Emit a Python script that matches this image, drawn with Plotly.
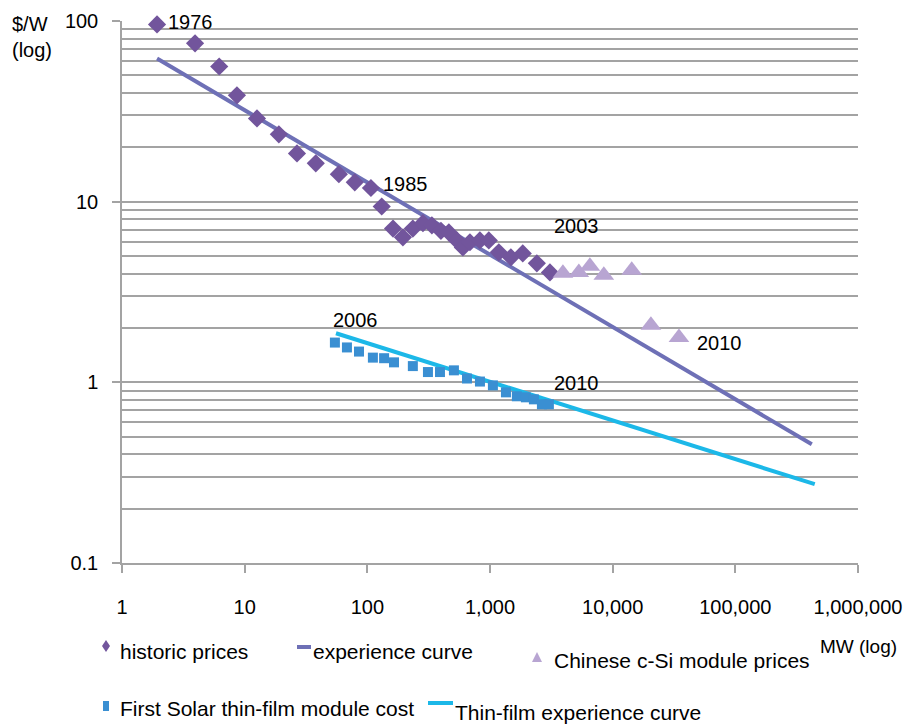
import plotly.graph_objects as go
import math

# ---- data ----
hist_mw = [1.93, 3.94, 6.2, 8.65, 12.6, 19, 26.7, 38, 58.6, 79, 107, 131, 162, 195, 235, 284,
           336, 398, 462, 537, 601, 686, 827, 978, 1180, 1480, 1850, 2410, 3080]
hist_price = [95.7, 75.2, 56, 38.8, 28.9, 23.6, 18.5, 16.3, 14.2, 12.8, 11.9, 9.4, 7.1, 6.35, 7.1, 7.6,
              7.4, 6.9, 6.76, 6.1, 5.58, 5.96, 6.1, 6.1, 5.24, 4.92, 5.17, 4.56, 4.06]

exp_mw = [1.93, 420000]
exp_price = [62, 0.454]

cn_mw = [3930, 5300, 6520, 8470, 14300, 20500, 34700]
cn_price = [4.01, 4.06, 4.39, 3.91, 4.17, 2.07, 1.77]

fs_mw = [54.4, 68.2, 85.5, 111, 137, 165, 235, 312, 391, 508, 649, 828, 1056, 1349, 1656,
         1962, 2280, 2650, 3020]
fs_cost = [1.66, 1.56, 1.48, 1.37, 1.36, 1.29, 1.23, 1.14, 1.14, 1.165, 1.05, 1.01, 0.962,
           0.88, 0.837, 0.826, 0.805, 0.756, 0.756]

tf_mw = [55.5, 444000]
tf_cost = [1.87, 0.273]

x_tickvals = [1, 10, 100, 1000, 10000, 100000, 1000000]
x_ticktext = ["1", "10", "100", "1,000", "10,000", "100,000", "1,000,000"]
y_tickvals = [0.1, 1, 10, 100]
y_ticktext = ["0.1", "1", "10", "100"]

# year labels: (text, x MW, y $/W)
year_labels = [("1976", 2.28, 98.9), ("1985", 129, 12.6), ("2003", 3190, 7.3),
               ("2006", 50.5, 2.2), ("2010", 3190, 0.987), ("2010", 46800, 1.66)]

# ---- styling ----
FONT = "Liberation Sans, Arial, sans-serif"
C_HIST = "#72559C"
C_EXP = "#6E70B6"
C_CN = "#B8A5D2"
C_FS = "#3A8FD2"
C_TF = "#1CB8E8"
GRID = "#A3A3A3"

fig = go.Figure()
fig.add_trace(go.Scatter(x=exp_mw, y=exp_price, mode="lines", name="experience curve",
                         line=dict(color=C_EXP, width=4)))
fig.add_trace(go.Scatter(x=tf_mw, y=tf_cost, mode="lines", name="Thin-film experience curve",
                         line=dict(color=C_TF, width=4)))
fig.add_trace(go.Scatter(x=hist_mw, y=hist_price, mode="markers", name="historic prices",
                         marker=dict(symbol="diamond", size=14, color=C_HIST), cliponaxis=False))
fig.add_trace(go.Scatter(x=cn_mw, y=cn_price, mode="markers", name="Chinese c-Si module prices",
                         marker=dict(symbol="triangle-up", size=18, color=C_CN), cliponaxis=False))
fig.add_trace(go.Scatter(x=fs_mw, y=fs_cost, mode="markers", name="First Solar thin-film module cost",
                         marker=dict(symbol="square", size=10, color=C_FS), cliponaxis=False))

W, H = 906, 726
L, R, T, B = 122, 858, 21, 563


def px(xp):
    return (xp - L) / (R - L)


def py(yp):
    return (B - yp) / (B - T)


annotations = []
for txt, xm, yv in year_labels:
    annotations.append(dict(x=math.log10(xm), y=math.log10(yv), xref="x", yref="y", text=txt,
                            showarrow=False, xanchor="left", yanchor="middle",
                            font=dict(family=FONT, size=20, color="#000")))

legend_texts = [("historic prices", 118, 651), ("experience curve", 311, 652),
                ("Chinese c-Si module prices", 552, 660),
                ("First Solar thin-film module cost", 118, 708),
                ("Thin-film experience curve", 453, 712)]
for txt, xp, yp in legend_texts:
    annotations.append(dict(x=px(xp), y=py(yp), xref="paper", yref="paper", text=txt,
                            showarrow=False, xanchor="left", yanchor="middle",
                            font=dict(family=FONT, size=21, color="#000")))

annotations.append(dict(x=px(818), y=py(646), xref="paper", yref="paper", text="MW (log)",
                        showarrow=False, xanchor="left", yanchor="middle",
                        font=dict(family=FONT, size=19, color="#000")))
annotations.append(dict(x=px(10), y=py(24), xref="paper", yref="paper", text="$/W",
                        showarrow=False, xanchor="left", yanchor="middle",
                        font=dict(family=FONT, size=20, color="#000")))
annotations.append(dict(x=px(10), y=py(50), xref="paper", yref="paper", text="(log)",
                        showarrow=False, xanchor="left", yanchor="middle",
                        font=dict(family=FONT, size=20, color="#000")))

shapes = []
# legend keys
shapes.append(dict(type="path", xref="paper", yref="paper",
                   path=f"M {px(106)} {py(640)} L {px(110)} {py(646)} L {px(106)} {py(652)} L {px(102)} {py(646)} Z",
                   fillcolor=C_HIST, line=dict(width=0)))
shapes.append(dict(type="line", xref="paper", yref="paper", x0=px(297), x1=px(311),
                   y0=py(647), y1=py(647), line=dict(color=C_EXP, width=4)))
shapes.append(dict(type="path", xref="paper", yref="paper",
                   path=f"M {px(537)} {py(652)} L {px(542)} {py(662)} L {px(532)} {py(662)} Z",
                   fillcolor=C_CN, line=dict(width=0)))
shapes.append(dict(type="rect", xref="paper", yref="paper", x0=px(103), x1=px(109),
                   y0=py(711), y1=py(701), fillcolor=C_FS, line=dict(width=0)))
shapes.append(dict(type="line", xref="paper", yref="paper", x0=px(428), x1=px(453),
                   y0=py(703), y1=py(703), line=dict(color=C_TF, width=4)))

fig.update_layout(
    width=W, height=H,
    margin=dict(l=L, r=W - R, t=T, b=H - B, pad=0),
    paper_bgcolor="white", plot_bgcolor="white",
    showlegend=False,
    font=dict(family=FONT, size=20, color="#000"),
    annotations=annotations,
    shapes=shapes,
)
fig.update_xaxes(type="log", range=[0, 6], tickvals=x_tickvals, ticktext=x_ticktext,
                 automargin=False,
                 showgrid=False, zeroline=False, showline=True, linecolor=GRID, linewidth=1.5,
                 ticks="outside", ticklen=8, tickwidth=1.5, tickcolor=GRID,
                 ticklabelstandoff=17, tickfont=dict(family=FONT, size=20, color="#000"))
fig.update_yaxes(type="log", range=[-1, 2], tickvals=y_tickvals, ticktext=y_ticktext,
                 automargin=False,
                 showgrid=True, gridcolor=GRID, gridwidth=1.5, zeroline=False,
                 showline=True, linecolor=GRID, linewidth=1.5,
                 ticks="outside", ticklen=8, tickwidth=1.5, tickcolor=GRID,
                 ticklabelstandoff=10, tickfont=dict(family=FONT, size=20, color="#000"),
                 minor=dict(dtick="D1", showgrid=True, gridcolor=GRID, gridwidth=1.5, ticklen=0))

fig.write_html("out.html", config={"displayModeBar": False},
               post_script="document.body.style.margin='0px';document.body.style.overflow='hidden';")
